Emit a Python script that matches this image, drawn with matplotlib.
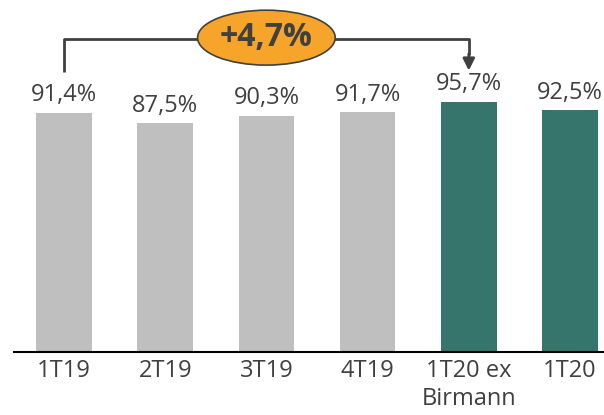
import matplotlib.pyplot as plt
from matplotlib.patches import Ellipse

plt.rcParams['font.family'] = ['Open Sans', 'DejaVu Sans']

# Dados do gráfico
categorias = ["1T19", "2T19", "3T19", "4T19", "1T20 ex\nBirmann", "1T20"]
valores = [91.4, 87.5, 90.3, 91.7, 95.7, 92.5]
rotulos = ["91,4%", "87,5%", "90,3%", "91,7%", "95,7%", "92,5%"]
cores = ["#bfbfbf"] * 4 + ["#36756b"] * 2
variacao = "+4,7%"

W, H = 604, 415
fig = plt.figure(figsize=(W / 100, H / 100), dpi=100)
ax = fig.add_axes([14 / W, (H - 352) / H, 1 - 14 / W, 352 / H])

x = list(range(len(valores)))
ax.bar(x, valores, width=0.55, color=cores, zorder=2)

for xi, v, r in zip(x, valores, rotulos):
    ax.annotate(r, (xi, v), xytext=(0, 4), textcoords="offset points",
                ha="center", va="bottom", fontsize=17, color="#404040")

ax.set_xlim(-0.494, 5.336)
ax.set_ylim(0, 134.6)

ax.set_xticks(x)
ax.set_xticklabels(categorias, fontsize=17, color="#404040", linespacing=1.25)
ax.tick_params(axis="x", length=0, pad=5)
ax.set_yticks([])
for lado in ["top", "right", "left"]:
    ax.spines[lado].set_visible(False)
ax.spines["bottom"].set_color("#000000")
ax.spines["bottom"].set_linewidth(1.5)

# Colchete indicando a variação entre 1T19 e 1T20 ex Birmann
y_linha = 119.7
cor_linha = "#404040"
ax.plot([0, 0, 4, 4], [107.1, y_linha, y_linha, 113.5],
        color=cor_linha, lw=2, solid_capstyle="butt", clip_on=False, zorder=3)
ax.annotate("", xy=(4, 107.6), xytext=(4, 114),
            arrowprops=dict(arrowstyle="-|>,head_width=0.35,head_length=0.7",
                            color=cor_linha, lw=2, shrinkA=0, shrinkB=0))

elipse = Ellipse((2.0, 120.2), 1.36, 21.0, facecolor="#f7a52a",
                 edgecolor="#404040", lw=1.2, zorder=4, clip_on=False)
ax.add_patch(elipse)
ax.text(2.0, 120.4, variacao, ha="center", va="center", fontsize=23,
        fontweight="bold", color="#404040", zorder=5)

fig.savefig("out.png", dpi=100)
